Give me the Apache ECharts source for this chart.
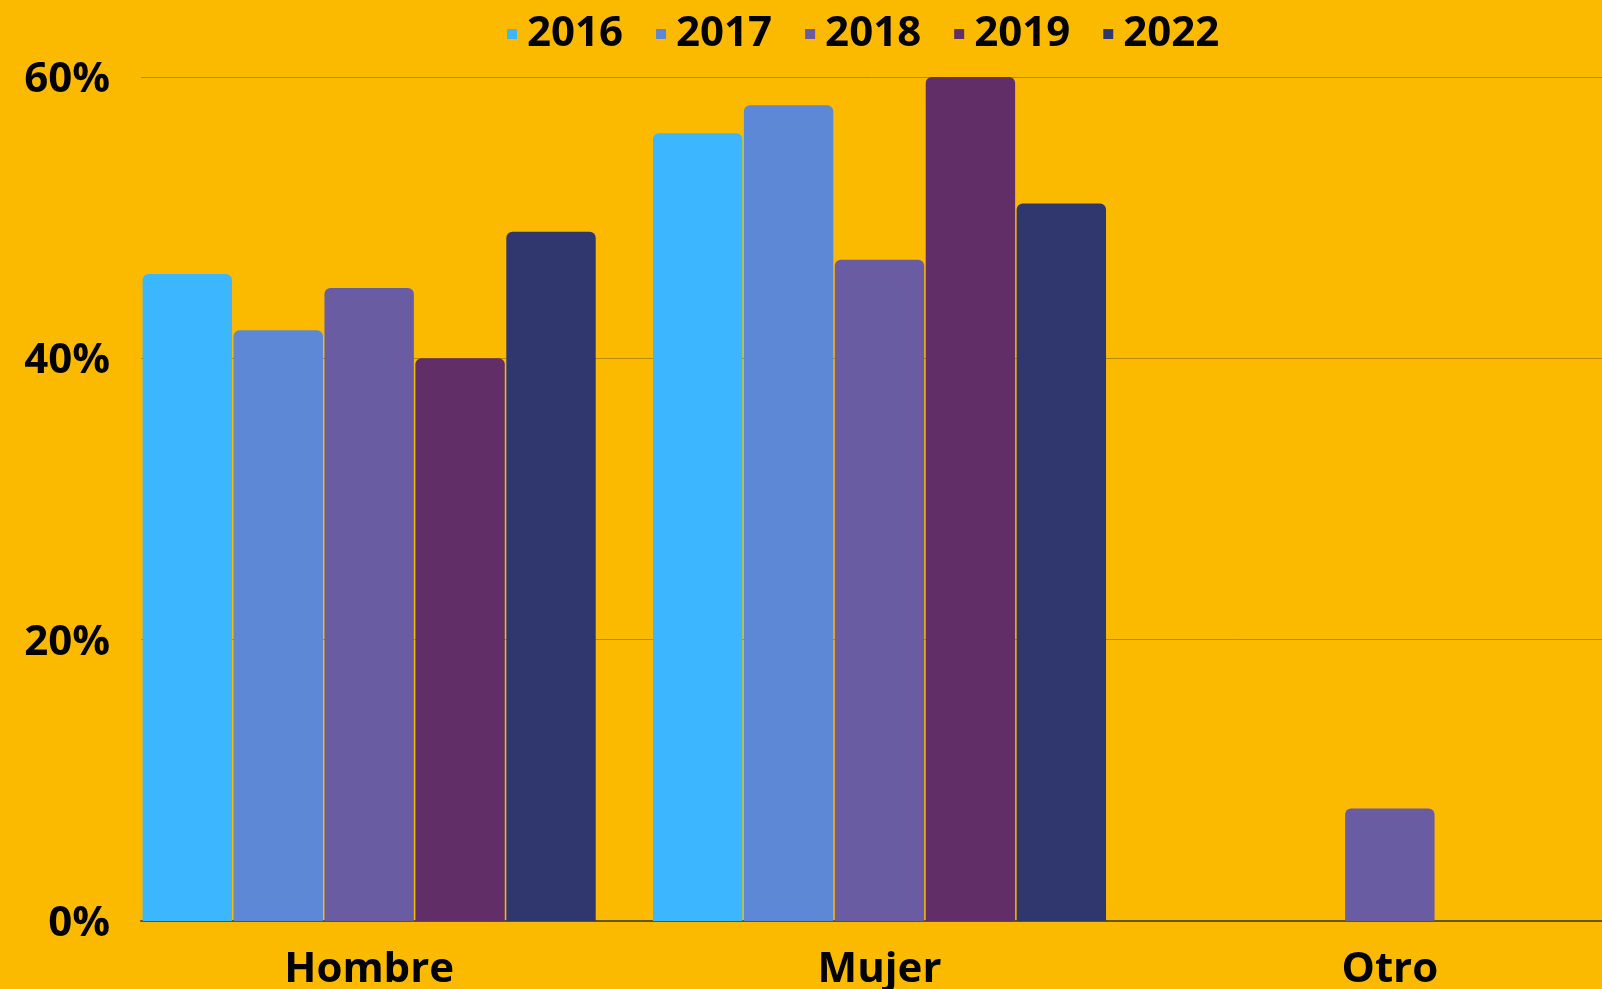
<!DOCTYPE html>
<html lang="es">
<head>
    <meta charset="utf-8">
    <title>Sexo por año</title>
    <script src="https://cdn.jsdelivr.net/npm/echarts@6/dist/echarts.min.js"></script>
    <style>
        html, body { margin: 0; padding: 0; background: #fbba00; }
        #main { width: 1602px; height: 989px; }
    </style>
</head>
<body>
<div id="main"></div>
<script>
    // datos (en %)
    var categorias = ['Hombre', 'Mujer', 'Otro'];
    var anios = ['2016', '2017', '2018', '2019', '2022'];
    var v2016 = [46, 56, null];
    var v2017 = [42, 58, null];
    var v2018 = [45, 47, 8];
    var v2019 = [40, 60, null];
    var v2022 = [49, 51, null];
    var yTicks = [0, 20, 40, 60];

    var colores = ['#3bb6ff', '#5c88d6', '#6a5ca3', '#612e68', '#30366e'];
    var valores = [v2016, v2017, v2018, v2019, v2022];

    var fuente = '"Open Sans", "DejaVu Sans", sans-serif';

    var series = anios.map(function (a, i) {
        return {
            name: a,
            type: 'bar',
            xAxisIndex: 0,
            yAxisIndex: 0,
            data: valores[i],
            barWidth: 89.4,
            barGap: '1.7%',
            itemStyle: { color: colores[i], borderRadius: [6, 6, 0, 0] }
        };
    });

    var myChart = echarts.init(document.getElementById('main'));
    var option = {
        backgroundColor: '#fbba00',
        color: colores,
        legend: {
            top: 8,
            left: 502,
            icon: 'rect',
            itemWidth: 10,
            itemHeight: 10,
            itemGap: 33,
            data: anios,
            textStyle: {
                fontFamily: fuente,
                fontWeight: 'bold',
                fontSize: 42,
                color: '#000',
                padding: [0, 0, 0, 5]
            }
        },
        grid: [
            // barras: la banda de la ultima categoria sale del borde derecho
            { left: 114, width: 1531, top: 77, bottom: 68, containLabel: false, outerBoundsMode: 'none' },
            // lineas guia y etiquetas del eje y
            { left: 141, right: 0, top: 77, bottom: 68, containLabel: false, outerBoundsMode: 'none' }
        ],
        xAxis: [
            {
                type: 'category',
                gridIndex: 0,
                data: categorias,
                axisLine: { show: false },
                axisTick: { show: false },
                axisLabel: {
                    margin: 28,
                    fontFamily: fuente,
                    fontWeight: 'bold',
                    fontSize: 42,
                    color: '#000'
                }
            },
            {
                type: 'value',
                gridIndex: 1,
                min: 0,
                max: 1,
                axisLine: { show: true, lineStyle: { color: '#6e5400', width: 2 } },
                axisTick: { show: false },
                axisLabel: { show: false },
                splitLine: { show: false }
            }
        ],
        yAxis: [
            {
                type: 'value',
                gridIndex: 0,
                min: yTicks[0],
                max: yTicks[yTicks.length - 1],
                interval: 20,
                show: false
            },
            {
                type: 'value',
                gridIndex: 1,
                min: yTicks[0],
                max: yTicks[yTicks.length - 1],
                interval: 20,
                axisLine: { show: false },
                axisTick: { show: false },
                splitLine: { show: true, lineStyle: { color: '#b88a00', width: 1 } },
                axisLabel: {
                    margin: 31,
                    formatter: '{v|{value}%}',
                    rich: {
                        v: {
                            fontFamily: fuente,
                            fontWeight: 'bold',
                            fontSize: 42,
                            color: '#000',
                            padding: [6, 0, 0, 0]
                        }
                    }
                }
            }
        ],
        series: series
    };
    myChart.setOption(option);
</script>
</body>
</html>
